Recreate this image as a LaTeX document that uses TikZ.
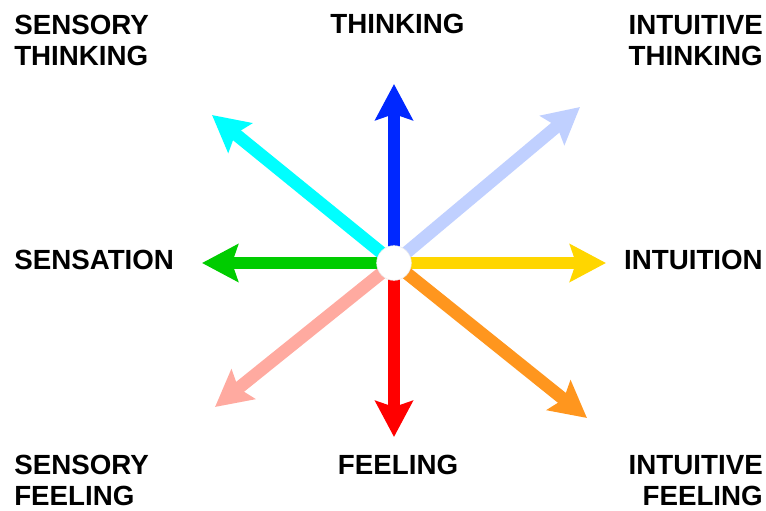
\documentclass[tikz,border=0pt]{standalone}
\usepackage{fontspec}
\setmainfont{Liberation Sans}
\usetikzlibrary{arrows.meta,backgrounds}

\definecolor{thinkblue}{RGB}{0,40,255}
\definecolor{paleblue}{RGB}{192,208,255}
\definecolor{intuityellow}{RGB}{255,214,0}
\definecolor{feelorange}{RGB}{255,150,30}
\definecolor{feelred}{RGB}{255,0,0}
\definecolor{palepink}{RGB}{255,170,160}
\definecolor{senselime}{RGB}{0,204,0}
\definecolor{senseaqua}{RGB}{0,255,255}

\begin{document}
\begin{tikzpicture}[x=0.75pt,y=-0.75pt,
 font=\bfseries\fontsize{20.8}{23}\selectfont,
 label/.style={inner sep=0pt},
 hub/.style={circle,fill=white,draw=black!8,minimum size=26pt,inner sep=0pt},
 ray/.style={-{Stealth[length=27pt,width=28pt,inset=4.5pt]},line width=9.5pt}]
\useasboundingbox (0,0) rectangle (766,510);

\node[hub] (c) at (394,263) {};

% arrow tips
\coordinate (tN) at (394,84);
\coordinate (tNE) at (580,107);
\coordinate (tE) at (606,263);
\coordinate (tSE) at (587,418);
\coordinate (tS) at (394,437);
\coordinate (tSW) at (215,407);
\coordinate (tW) at (202,263);
\coordinate (tNW) at (212,115);

\begin{scope}[on background layer]
\draw[ray,thinkblue] (c.center) -- (tN);
\draw[ray,paleblue] (c.center) -- (tNE);
\draw[ray,intuityellow] (c.center) -- (tE);
\draw[ray,feelorange] (c.center) -- (tSE);
\draw[ray,feelred] (c.center) -- (tS);
\draw[ray,palepink] (c.center) -- (tSW);
\draw[ray,senselime] (c.center) -- (tW);
\draw[ray,senseaqua] (c.center) -- (tNW);
\end{scope}

\node[label,anchor=north west,align=left] (st) at (14,15) {SENSORY\\THINKING};
\node[label,anchor=north] (th) at (397.5,14) {THINKING};
\node[label,anchor=north east,align=right] (it) at (763,15) {INTUITIVE\\THINKING};
\node[label,anchor=north west] (sn) at (14,250) {SENSATION};
\node[label,anchor=north east] (in) at (763,250) {INTUITION};
\node[label,anchor=north west,align=left] (sf) at (14,455) {SENSORY\\FEELING};
\node[label,anchor=north] (fe) at (398,455) {FEELING};
\node[label,anchor=north east,align=right] (if) at (763,455) {INTUITIVE\\FEELING};
\end{tikzpicture}
\end{document}
